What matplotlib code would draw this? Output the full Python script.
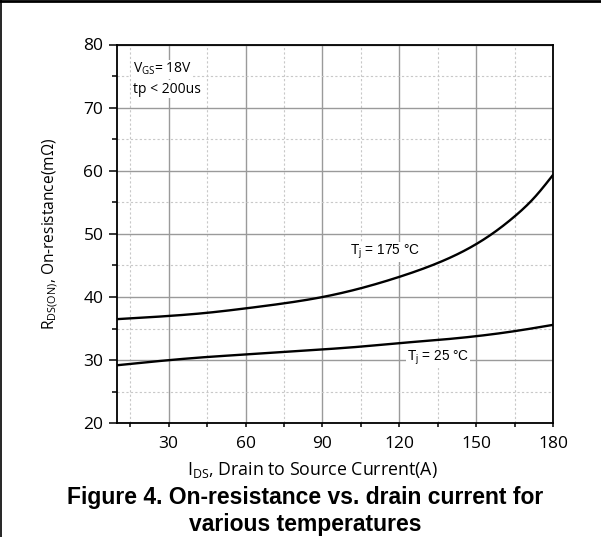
import matplotlib
matplotlib.use("Agg")
import matplotlib.pyplot as plt
from matplotlib.ticker import MultipleLocator
from matplotlib.lines import Line2D
import numpy as np

# Data
ids_175 = [10, 30, 45, 60, 75, 90, 105, 120, 135, 150, 157.5, 165, 172.5, 180]
r_175 = [36.5, 37.0, 37.5, 38.2, 39.0, 40.0, 41.4, 43.2, 45.4, 48.4, 50.4, 52.8, 55.7, 59.4]
ids_25 = [10, 30, 45, 60, 75, 90, 105, 120, 135, 150, 165, 180]
r_25 = [29.2, 30.0, 30.5, 30.9, 31.3, 31.7, 32.15, 32.7, 33.2, 33.8, 34.6, 35.6]

x_ticks = [30, 60, 90, 120, 150, 180]
y_ticks = [20, 30, 40, 50, 60, 70, 80]

W, H = 601, 537
fig = plt.figure(figsize=(W / 100, H / 100), dpi=100)
ax = fig.add_axes([117.3 / W, 1 - 423.3 / H, (553.3 - 117.3) / W, (423.3 - 44.5) / H])

tick_font = "Open Sans"


def spline(xs, ys, n=400):
    """Natural cubic spline through the read points (for a smooth drawn curve)."""
    xs = np.asarray(xs, float)
    ys = np.asarray(ys, float)
    k = len(xs)
    h = np.diff(xs)
    A = np.zeros((k, k))
    b = np.zeros(k)
    A[0, 0] = A[-1, -1] = 1
    for i in range(1, k - 1):
        A[i, i - 1] = h[i - 1]
        A[i, i] = 2 * (h[i - 1] + h[i])
        A[i, i + 1] = h[i]
        b[i] = 6 * ((ys[i + 1] - ys[i]) / h[i] - (ys[i] - ys[i - 1]) / h[i - 1])
    M = np.linalg.solve(A, b)
    xx = np.linspace(xs[0], xs[-1], n)
    idx = np.clip(np.searchsorted(xs, xx) - 1, 0, k - 2)
    x0, x1 = xs[idx], xs[idx + 1]
    hh = x1 - x0
    yy = (M[idx] * (x1 - xx) ** 3 / (6 * hh) + M[idx + 1] * (xx - x0) ** 3 / (6 * hh)
          + (ys[idx] / hh - M[idx] * hh / 6) * (x1 - xx)
          + (ys[idx + 1] / hh - M[idx + 1] * hh / 6) * (xx - x0))
    return xx, yy


for xs, ys in [(ids_175, r_175), (ids_25, r_25)]:
    xx, yy = spline(xs, ys)
    ax.plot(xx, yy, color="black", lw=1.7, zorder=3, solid_capstyle="butt")

ax.set_xlim(10, 180)
ax.set_ylim(20, 80)
ax.xaxis.set_minor_locator(MultipleLocator(15))
ax.yaxis.set_minor_locator(MultipleLocator(5))
ax.set_xticks(x_ticks)
ax.set_yticks(y_ticks)

ax.grid(which="major", color="#9a9a9a", lw=1.0, ls="-")
ax.grid(which="minor", color="#c8c8c8", lw=0.8, ls=(0, (2, 2)))
ax.set_axisbelow(True)

for s in ax.spines.values():
    s.set_linewidth(1.3)
    s.set_color("black")

ax.tick_params(axis="y", which="major", length=6, width=1.1, direction="out", pad=4,
               labelsize=12.5)
ax.tick_params(axis="y", which="minor", length=3.3, width=1.1, direction="out")
ax.tick_params(axis="x", which="major", length=3, width=1.1, direction="out", pad=6,
               labelsize=12.5)
ax.tick_params(axis="x", which="minor", length=3, width=1.1, direction="out")
for lab in ax.get_xticklabels() + ax.get_yticklabels():
    lab.set_fontfamily(tick_font)

ax.set_xlabel(r"I$_\mathregular{DS}$, Drain to Source Current(A)", fontfamily=tick_font,
              fontsize=12.8)
ax.xaxis.set_label_coords((312 - 117.3) / 436.0, -(470 - 423.3) / 378.8)
ax.xaxis.label.set_va("center")
ax.set_ylabel(r"R$_\mathregular{DS(ON)}$, On-resistance(m$\mathregular{\Omega}$)",
              fontfamily=tick_font, fontsize=11.2)
ax.yaxis.set_label_coords(-(117.3 - 50) / 436.0, 0.5)
ax.yaxis.label.set_va("center")

bbox = dict(facecolor="white", edgecolor="none", pad=1.0)
ax.text(16, 76.1, r"V$_\mathregular{GS}$= 18V", fontfamily=tick_font, fontsize=10,
        va="center", ha="left", bbox=bbox, zorder=4)
ax.text(16, 72.9, "tp < 200us", fontfamily=tick_font, fontsize=10,
        va="center", ha="left", bbox=bbox, zorder=4)

lab_font = "Liberation Sans"
ax.text(100.8, 47.1, r"T$_\mathregular{j}$ = 175 °C", fontfamily=lab_font, fontsize=9.8,
        va="center", ha="left", zorder=4, bbox=dict(facecolor="white", edgecolor="none", pad=0.5))
ax.text(122.9, 30.3, r"T$_\mathregular{j}$ = 25 °C", fontfamily=lab_font, fontsize=9.8,
        va="center", ha="left", zorder=4, bbox=dict(facecolor="white", edgecolor="none", pad=0.5))

fig.text(305 / W, 1 - 504 / H, "Figure 4. On-resistance vs. drain current for",
         fontfamily="Liberation Sans", fontweight="bold", fontsize=16.5, ha="center", va="baseline")
fig.text(305 / W, 1 - 531 / H, "various temperatures",
         fontfamily="Liberation Sans", fontweight="bold", fontsize=16.5, ha="center", va="baseline")

# outer frame (top and left edges)
fig.add_artist(Line2D([0, 1], [1 - 1.3 / H, 1 - 1.3 / H], transform=fig.transFigure,
                      color="black", lw=2.0))
fig.add_artist(Line2D([0.8 / W, 0.8 / W], [0, 1], transform=fig.transFigure,
                      color="black", lw=1.2))

fig.savefig("out.png", dpi=100)
